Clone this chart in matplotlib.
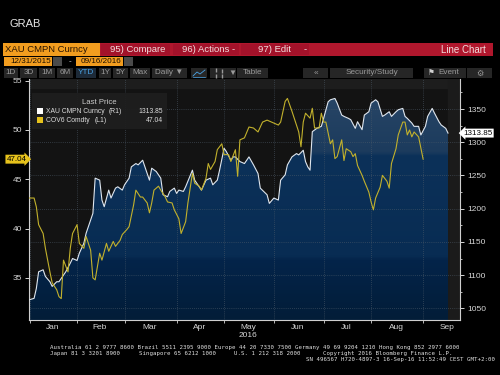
import matplotlib
import numpy as np
import pandas as pd

matplotlib.use("Agg")
import matplotlib.pyplot as plt
import matplotlib.transforms as mtransforms
from matplotlib.colors import LinearSegmentedColormap
from matplotlib.patches import Rectangle

START = "2015-12-31"

# XAU CMPN Curncy (right axis)
gold_dates = [
    "2015-12-31", "2016-01-05", "2016-01-06", "2016-01-07", "2016-01-11", "2016-01-12",
    "2016-01-14", "2016-01-15", "2016-01-19", "2016-01-20", "2016-01-22", "2016-01-25",
    "2016-01-27", "2016-01-28", "2016-02-01", "2016-02-02", "2016-02-04", "2016-02-05",
    "2016-02-09", "2016-02-10", "2016-02-11", "2016-02-15", "2016-02-16", "2016-02-17",
    "2016-02-19", "2016-02-22", "2016-02-24", "2016-02-25", "2016-02-29", "2016-03-01",
    "2016-03-03", "2016-03-04", "2016-03-08", "2016-03-09", "2016-03-11", "2016-03-15",
    "2016-03-16", "2016-03-17", "2016-03-21", "2016-03-23", "2016-03-24", "2016-03-28",
    "2016-03-29", "2016-03-31", "2016-04-01", "2016-04-04", "2016-04-06", "2016-04-07",
    "2016-04-12", "2016-04-13", "2016-04-15", "2016-04-18", "2016-04-20", "2016-04-22",
    "2016-04-25", "2016-04-27", "2016-04-28", "2016-05-02", "2016-05-03", "2016-05-05",
    "2016-05-06", "2016-05-09", "2016-05-11", "2016-05-13", "2016-05-17", "2016-05-19",
    "2016-05-23", "2016-05-24", "2016-05-27", "2016-05-30", "2016-06-01", "2016-06-03",
    "2016-06-06", "2016-06-08", "2016-06-09", "2016-06-13", "2016-06-15", "2016-06-16",
    "2016-06-20", "2016-06-21", "2016-06-22", "2016-06-23", "2016-06-24", "2016-06-28",
    "2016-06-30", "2016-07-01", "2016-07-05", "2016-07-06", "2016-07-08", "2016-07-11",
    "2016-07-13", "2016-07-14", "2016-07-18", "2016-07-19", "2016-07-21", "2016-07-22",
    "2016-07-26", "2016-07-27", "2016-07-29", "2016-08-01", "2016-08-03", "2016-08-04",
    "2016-08-08", "2016-08-09", "2016-08-11", "2016-08-12", "2016-08-16", "2016-08-17",
    "2016-08-19", "2016-08-22", "2016-08-23", "2016-08-25", "2016-08-26", "2016-08-30",
    "2016-08-31", "2016-09-02", "2016-09-05", "2016-09-07", "2016-09-08", "2016-09-12",
    "2016-09-13", "2016-09-15", "2016-09-16",
]
gold_values = [
    1062, 1065, 1080, 1105, 1108, 1098,
    1090, 1083, 1090, 1090, 1100, 1105,
    1118, 1125, 1122, 1133, 1148, 1163,
    1183, 1193, 1246, 1243, 1213, 1203,
    1228, 1216, 1231, 1233, 1228, 1236,
    1246, 1263, 1268, 1266, 1273, 1253,
    1243, 1261, 1256, 1246, 1221, 1218,
    1226, 1231, 1223, 1228, 1226, 1233,
    1258, 1243, 1233, 1228, 1243, 1246,
    1236, 1243, 1258, 1291, 1286, 1273,
    1278, 1278, 1271, 1268, 1278, 1266,
    1253, 1231, 1221, 1208, 1216, 1213,
    1243, 1251, 1266, 1278, 1283, 1281,
    1288, 1271, 1263, 1258, 1316, 1321,
    1324, 1336, 1361, 1364, 1366, 1359,
    1341, 1339, 1336, 1334, 1321, 1331,
    1319, 1341, 1346, 1359, 1364, 1361,
    1339, 1341, 1346, 1339, 1346, 1349,
    1351, 1339, 1336, 1329, 1324, 1324,
    1311, 1324, 1339, 1351, 1344, 1331,
    1326, 1321, 1313.85,
]

# COV6 Comdty (left axis)
oil_dates = [
    "2015-12-31", "2016-01-05", "2016-01-06", "2016-01-07", "2016-01-11", "2016-01-12",
    "2016-01-14", "2016-01-15", "2016-01-19", "2016-01-20", "2016-01-21", "2016-01-22",
    "2016-01-26", "2016-01-27", "2016-01-28", "2016-02-01", "2016-02-02", "2016-02-04",
    "2016-02-05", "2016-02-09", "2016-02-10", "2016-02-11", "2016-02-15", "2016-02-16",
    "2016-02-18", "2016-02-19", "2016-02-23", "2016-02-24", "2016-02-26", "2016-02-29",
    "2016-03-02", "2016-03-03", "2016-03-07", "2016-03-08", "2016-03-10", "2016-03-11",
    "2016-03-15", "2016-03-16", "2016-03-17", "2016-03-18", "2016-03-22", "2016-03-23",
    "2016-03-25", "2016-03-28", "2016-03-30", "2016-03-31", "2016-04-04", "2016-04-05",
    "2016-04-07", "2016-04-08", "2016-04-12", "2016-04-13", "2016-04-15", "2016-04-18",
    "2016-04-20", "2016-04-21", "2016-04-22", "2016-04-26", "2016-04-27", "2016-04-29",
    "2016-05-02", "2016-05-04", "2016-05-05", "2016-05-09", "2016-05-10", "2016-05-11",
    "2016-05-13", "2016-05-17", "2016-05-19", "2016-05-23", "2016-05-25", "2016-05-27",
    "2016-05-31", "2016-06-01", "2016-06-03", "2016-06-06", "2016-06-08", "2016-06-09",
    "2016-06-13", "2016-06-14", "2016-06-16", "2016-06-17", "2016-06-20", "2016-06-21",
    "2016-06-23", "2016-06-24", "2016-06-27", "2016-06-29", "2016-06-30", "2016-07-01",
    "2016-07-04", "2016-07-06", "2016-07-07", "2016-07-08", "2016-07-11", "2016-07-13",
    "2016-07-14", "2016-07-15", "2016-07-19", "2016-07-20", "2016-07-21", "2016-07-22",
    "2016-07-26", "2016-07-27", "2016-07-29", "2016-08-01", "2016-08-02", "2016-08-03",
    "2016-08-05", "2016-08-08", "2016-08-10", "2016-08-11", "2016-08-12", "2016-08-16",
    "2016-08-17", "2016-08-19", "2016-08-22", "2016-08-23", "2016-08-24", "2016-08-25",
    "2016-08-26", "2016-08-30", "2016-09-01",
]
oil_values = [
    43.1, 43.1, 42.2, 40.4, 39.5, 38.0,
    35.6, 34.5, 33.8, 33.1, 32.9, 36.8,
    35.6, 38.0, 39.5, 40.4, 38.5, 38.0,
    39.2, 37.8, 35.0, 34.8, 37.5, 36.8,
    38.5, 37.7, 38.7, 38.2, 38.8, 39.4,
    39.9, 40.2, 42.4, 43.9, 43.2, 43.2,
    42.6, 41.6, 42.6, 43.9, 44.3, 43.9,
    43.2, 42.7, 42.6, 41.9, 41.0, 39.5,
    40.7, 42.6, 45.6, 44.6, 44.3, 43.9,
    45.1, 46.6, 46.0, 46.8, 48.0, 48.6,
    47.5, 47.5, 46.8, 48.0, 45.3, 49.0,
    49.2, 50.3, 50.2, 49.8, 50.8, 51.0,
    50.8, 50.7, 50.5, 50.8, 52.9, 53.2,
    51.9, 51.2, 49.8, 48.3, 50.8, 51.7,
    51.2, 52.2, 50.2, 50.2, 51.7, 50.8,
    50.8, 48.6, 49.0, 47.1, 47.3, 49.0,
    46.9, 48.1, 47.8, 47.3, 47.6, 46.4,
    45.4, 44.8, 43.7, 42.7, 41.9, 43.1,
    44.2, 45.4, 44.8, 44.1, 46.6, 48.1,
    49.5, 50.8, 50.8, 49.5, 50.0, 49.3,
    49.8, 49.3, 47.04,
]

left_ticks = [35, 40, 45, 50, 55]
right_ticks = [1050, 1100, 1150, 1200, 1250, 1300, 1350]
right_minor = [1075, 1125, 1175, 1225, 1275, 1325, 1375]
month_starts = ["2016-01-01", "2016-02-01", "2016-03-01", "2016-04-01", "2016-05-01",
                "2016-06-01", "2016-07-01", "2016-08-01", "2016-09-01", "2016-10-01"]
month_labels = ["Jan", "Feb", "Mar", "Apr", "May\n2016", "Jun", "Jul", "Aug", "Sep"]

FONT = "Liberation Sans"
MONO = "DejaVu Sans Mono"


def bday(dates):
    # Bloomberg plots on a weekday axis: no gaps for weekends
    return np.busday_count(START, np.array(dates, dtype="datetime64[D]"))


gx = bday(gold_dates)
ox = bday(oil_dates)
mx = np.busday_offset(np.array(month_starts, dtype="datetime64[D]"), 0, roll="forward")
mstart = np.busday_count(START, mx)
mmid = [(mstart[k] + mstart[k + 1] - 1) / 2 for k in range(len(month_labels))]

fig = plt.figure(figsize=(5, 3.75), dpi=100, facecolor="black")

# terminal chrome, pixel coordinates
ui = fig.add_axes([0, 0, 1, 1], zorder=0)
ui.set_xlim(0, 500)
ui.set_ylim(375, 0)
ui.axis("off")


def box(a, x0, x1, y0, y1, color, **kw):
    a.add_patch(Rectangle((x0, y0), x1 - x0, y1 - y0, facecolor=color, edgecolor="none", **kw))


ui.text(10, 24, "GRAB", color="#e6e6e6", fontsize=8, family=FONT, va="center")

box(ui, 3, 100, 43, 56, "#f29d1f")
ui.text(5, 49.5, "XAU CMPN Curncy", color="#2a1400", fontsize=6.8, family=FONT, va="center")
box(ui, 100, 493, 43, 56, "#b0172d")
for x0, x1 in [(101, 170), (173, 239), (241, 309)]:
    box(ui, x0, x1, 44, 55, "#a3122a")
ui.text(110, 49.5, "95) Compare", color="#f2dede", fontsize=6.8, family=FONT, va="center")
ui.text(182, 49.5, "96) Actions -", color="#f2dede", fontsize=6.8, family=FONT, va="center")
ui.text(258, 49.5, "97) Edit", color="#f2dede", fontsize=6.8, family=FONT, va="center")
ui.text(304, 49.5, "-", color="#f2dede", fontsize=6.8, family=FONT, va="center")
ui.text(486, 50, "Line Chart", color="#f2dede", fontsize=7, family=FONT, va="center", ha="right")

box(ui, 4, 52, 57, 66, "#f29d1f")
box(ui, 53, 62, 57, 66, "#4a4a4a")
box(ui, 76, 123, 57, 66, "#f29d1f")
box(ui, 124, 133, 57, 66, "#4a4a4a")
ui.text(10, 61.5, "12/31/2015", color="#1a0d00", fontsize=5.9, family=FONT, va="center")
ui.text(69, 61.5, "-", color="#dddddd", fontsize=5.9, family=FONT, va="center")
ui.text(81, 61.5, "09/16/2016", color="#1a0d00", fontsize=5.9, family=FONT, va="center")

tabs = [(4, 18, "1D"), (20, 37, "3D"), (39, 55, "1M"), (57, 73, "6M"), (76, 96, "YTD"),
        (99, 111, "1Y"), (113, 128, "5Y"), (130, 150, "Max"), (152, 187, "Daily \u25bc"),
        (191, 207, ""), (210, 229, ""), (229, 236, "\u25bc"), (237, 268, "Table"),
        (303, 328, "\u00ab"), (330, 413, "Security/Study"), (424, 466, "Event"),
        (467, 492, "\u2699")]
for x0, x1, lab in tabs:
    box(ui, x0, x1, 68, 78, "#1d2a38" if lab == "YTD" else "#262626")
    ui.text((x0 + x1) / 2 + (4 if lab == "Event" else 0), 73, lab,
            color="#4aa3e6" if lab == "YTD" else "#9a9a9a",
            fontsize=5.9, family=["DejaVu Sans"] if lab == "\u2699" else FONT,
            ha="center", va="center")
ui.text(431, 73, "\u2691", color="#d0d0d0", fontsize=5.5, family="DejaVu Sans", ha="center", va="center")
# small chart / bar icons in the toolbar
ui.plot([193, 197, 200, 205], [76, 72, 74, 70], color="#4aa3e6", lw=0.6)
ui.plot([193, 205], [76.5, 76.5], color="#4aa3e6", lw=0.5)
ui.plot([216, 216, 222, 222], [70, 76, 71, 76], color="#9a9a9a", lw=0.6, linestyle="none", marker="|", ms=3)

footer = [
    (50, 348, "Australia 61 2 9777 8600 Brazil 5511 2395 9000 Europe 44 20 7330 7500 "
              "Germany 49 69 9204 1210 Hong Kong 852 2977 6000", "left"),
    (50, 353.5, "Japan 81 3 3201 8900", "left"),
    (139, 353.5, "Singapore 65 6212 1000", "left"),
    (234, 353.5, "U.S. 1 212 318 2000", "left"),
    (323, 353.5, "Copyright 2016 Bloomberg Finance L.P.", "left"),
    (495, 359, "SN 496567 H720-4897-3 16-Sep-16 11:52:49 CEST GMT+2:00", "right"),
]
for x, y, s, ha in footer:
    ui.text(x, y, s, color="#e0e0e0", fontsize=4.15, family=MONO, ha=ha, va="center")

# chart: gold on ax (right scale), oil on ax2 (left scale)
ax = fig.add_axes([29 / 500, 55 / 375, 431 / 500, 241 / 375], zorder=1)
ax2 = ax.twinx()
ax2.set_zorder(2)
ax2.patch.set_visible(False)
ax.set_facecolor("#131313")

x0, x1 = 0.75, 191.3
g0, g1 = 1032.4, 1395.3
ax.axvspan(gx[-1], x1, color="#1b1b1b", zorder=0.2)
ax.axhspan(1381, g1, color="#1d1d1d", zorder=0.1)

shade = ax.fill_between(gx, gold_values, g0, facecolor="none", edgecolor="none")
stops = [(1032, "#021d38"), (1122, "#04244a"), (1128, "#082c53"), (1279, "#0c3159"),
         (1285, "#1c3b5d"), (1396, "#2b4969")]
pos = [(v - stops[0][0]) / (stops[-1][0] - stops[0][0]) for v, _ in stops]
cmap = LinearSegmentedColormap.from_list("bbg", list(zip(pos, [c for _, c in stops])))
im = ax.imshow(np.linspace(0, 1, 600).reshape(-1, 1), extent=[x0, x1, 1032, 1396],
               origin="lower", aspect="auto", cmap=cmap, zorder=0.5)
im.set_clip_path(shade.get_paths()[0], transform=ax.transData)

ax.plot(gx, gold_values, color="#dfe6ee", lw=0.8, zorder=3)
ax2.plot(ox, oil_values, color="#c2b12c", lw=0.8, zorder=3)

ax.set_xlim(x0, x1)
ax.set_ylim(g0, g1)
ax2.set_ylim(30.73, 55.17)

ax.yaxis.tick_right()
ax2.yaxis.tick_left()
ax.set_yticks(right_ticks)
ax.set_yticks(right_minor, minor=True)
ax2.set_yticks(left_ticks)
ax.set_xticks(mstart[:-1])
ax.set_xticklabels([""] * (len(mstart) - 1))
ax.set_xticks(mmid, minor=True)
ax.set_xticklabels(month_labels, minor=True)

tick_col = "#d6d6d6"
ax.tick_params(axis="y", which="major", length=3, width=0.7, color=tick_col, labelcolor=tick_col,
               labelsize=6, pad=2)
ax.tick_params(axis="y", which="minor", length=1.5, width=0.6, color=tick_col)
ax.tick_params(axis="x", which="major", length=2, width=0.6, color=tick_col)
ax.tick_params(axis="x", which="minor", length=0, labelcolor=tick_col, labelsize=6, pad=3)
ax2.tick_params(axis="y", length=3, width=0.7, color=tick_col, labelcolor=tick_col,
                labelsize=6, pad=2)
for lab in ax.get_xticklabels(minor=True) + ax.get_yticklabels() + ax2.get_yticklabels():
    lab.set_family(FONT)

ax.set_axisbelow("line")
ax.grid(True, which="major", color="#4f5d6b", lw=0.5, linestyle=(0, (1, 2)))

for name, sp in ax.spines.items():
    sp.set_color("#cfcfcf")
    sp.set_linewidth(0.8)
    sp.set_visible(name != "top")
for sp in ax2.spines.values():
    sp.set_visible(False)

# last-value markers on each scale
ax.text(1.008, gold_values[-1], f"{gold_values[-1]:.2f}",
        transform=mtransforms.blended_transform_factory(ax.transAxes, ax.transData),
        ha="left", va="center", fontsize=5.8, family=FONT, color="black", clip_on=False,
        bbox=dict(boxstyle="larrow,pad=0.12", facecolor="white", edgecolor="none"))
ax2.text(-0.006, oil_values[-1], f"{oil_values[-1]:.2f}",
         transform=mtransforms.blended_transform_factory(ax2.transAxes, ax2.transData),
         ha="right", va="center", fontsize=5.8, family=FONT, color="black", clip_on=False,
         bbox=dict(boxstyle="rarrow,pad=0.12", facecolor="#e6c21c", edgecolor="none"))

# legend panel
over = fig.add_axes([0, 0, 1, 1], zorder=5)
over.set_xlim(0, 500)
over.set_ylim(375, 0)
over.axis("off")
box(over, 32, 167, 93, 129, "#1e1e1e", alpha=0.92)
over.text(99, 102, "Last Price", color="#cccccc", fontsize=5.6, family=FONT, ha="center", va="center")
box(over, 37, 43, 108, 114, "white")
box(over, 37, 43, 117, 123, "#e6c21c")
over.text(46, 111.5, "XAU CMPN Curncy", color="#dddddd", fontsize=4.9, family=FONT, va="center")
over.text(109, 111.5, "(R1)", color="#dddddd", fontsize=4.9, family=FONT, va="center")
over.text(163, 111.5, f"{gold_values[-1]:.2f}", color="#dddddd", fontsize=4.9, family=FONT,
          va="center", ha="right")
over.text(46, 120.5, "COV6 Comdty", color="#dddddd", fontsize=4.9, family=FONT, va="center")
over.text(95, 120.5, "(L1)", color="#dddddd", fontsize=4.9, family=FONT, va="center")
over.text(163, 120.5, f"{oil_values[-1]:.2f}", color="#dddddd", fontsize=4.9, family=FONT,
          va="center", ha="right")

fig.savefig("out.png", dpi=100, facecolor="black")
